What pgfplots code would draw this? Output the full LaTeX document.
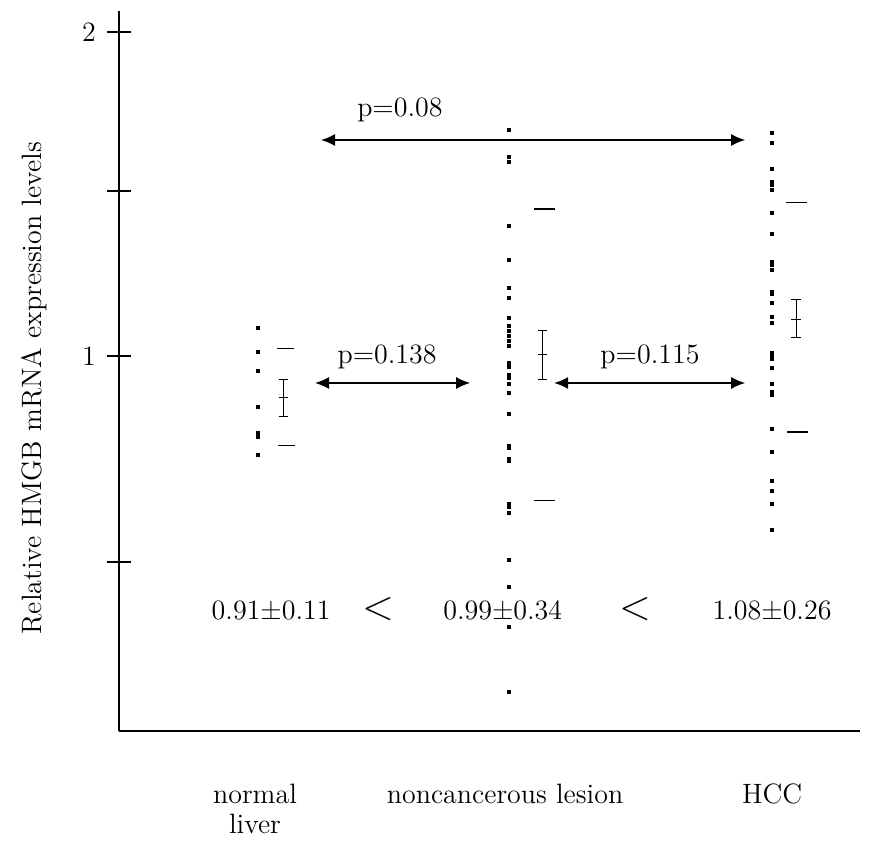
\documentclass[border=0pt]{standalone}
\usepackage{fontspec}
\usepackage{pgfplots}
\pgfplotsset{compat=1.18}
\usetikzlibrary{arrows.meta}

\begin{document}
\begin{tikzpicture}[font=\fontsize{14}{15}\selectfont]
  \path[use as bounding box] (-59.5pt,-55.5pt) rectangle (377pt,365.5pt);
  \begin{axis}[
      scale only axis, width=370.5pt, height=360pt,
      xmin=0.459, xmax=3.342, ymin=-0.1574, ymax=2.0648,
      axis x line=bottom, axis y line=left,
      axis line style={-, line width=0.9pt},
      xtick=\empty,
      ytick={0.3642,1,1.5093,2}, yticklabels={,1,,2},
      yticklabel style={xshift=-2pt},
      tick align=center, major tick length=12pt,
      tick style={black, line width=0.9pt},
      ylabel={Relative HMGB mRNA expression levels},
      ylabel style={at={(axis description cs:-0.115,0.476)}, anchor=center},
      clip=false, unbounded coords=jump,
      /pgf/number format/assume math mode=true,
    ]
    % individual samples
    \addplot[only marks, mark=square*, mark size=0.75pt, black] coordinates {
      (1,1.0855) (1,1.0133) (1,0.9546) (1,0.8435) (1,0.7614) (1,0.7509) (1,0.6944)
    };
    \addplot[only marks, mark=square*, mark size=0.75pt, black] coordinates {
      (1.977,1.6975) (1.977,1.6151) (1.977,1.5997) (1.977,1.4022) (1.977,1.2963)
      (1.977,1.2090) (1.977,1.1781) (1.977,1.1182) (1.977,1.0926) (1.977,1.0772)
      (1.977,1.0617) (1.977,1.0463) (1.977,1.0309) (1.977,0.9793) (1.977,0.9651)
      (1.977,0.9414) (1.977,0.9321) (1.977,0.9136) (1.977,0.8849) (1.977,0.8201)
      (1.977,0.7231) (1.977,0.7160) (1.977,0.6821) (1.977,0.6759) (1.977,0.5432)
      (1.977,0.5349) (1.977,0.5164) (1.977,0.3704) (1.977,0.2880) (1.977,0.1645)
      (1.977,-0.0361)
    };
    \addplot[only marks, mark=square*, mark size=0.75pt, black] coordinates {
      (3,1.6873) (3,1.6565) (3,1.5772) (3,1.5380) (3,1.5278) (3,1.5123) (3,1.4423)
      (3,1.3756) (3,1.2911) (3,1.2809) (3,1.2654) (3,1.1985) (3,1.1914) (3,1.1627)
      (3,1.1213) (3,1.1009) (3,1.0102) (3,1.0015) (3,0.9898) (3,0.9639) (3,0.9127)
      (3,0.8898) (3,0.8796) (3,0.7747) (3,0.7028) (3,0.6151) (3,0.5833) (3,0.5423)
      (3,0.4630)
    };
    % mean +- SE (bar, caps and mean tick)
    \addplot[black, line width=0.5pt] coordinates {
      (1.098,0.8139) (1.098,0.9290) (nan,nan)
      (1.080,0.9290) (1.116,0.9290) (nan,nan)
      (1.080,0.8713) (1.116,0.8713) (nan,nan)
      (1.080,0.8139) (1.116,0.8139)
    };
    \addplot[black, line width=0.5pt] coordinates {
      (2.106,0.9281) (2.106,1.0781) (nan,nan)
      (2.088,1.0781) (2.124,1.0781) (nan,nan)
      (2.088,1.0031) (2.124,1.0031) (nan,nan)
      (2.088,0.9281) (2.124,0.9281)
    };
    \addplot[black, line width=0.5pt] coordinates {
      (3.093,1.0565) (3.093,1.1759) (nan,nan)
      (3.074,1.1759) (3.112,1.1759) (nan,nan)
      (3.074,1.1142) (3.112,1.1142) (nan,nan)
      (3.074,1.0565) (3.112,1.0565)
    };
    % mean +- SD
    \addplot[black, line width=0.6pt] coordinates {(1.074,1.0238) (1.140,1.0238)};
    \addplot[black, line width=0.6pt] coordinates {(1.078,0.7231) (1.144,0.7231)};
    \addplot[black, line width=0.6pt] coordinates {(2.074,1.4537) (2.156,1.4537)};
    \addplot[black, line width=0.6pt] coordinates {(2.074,0.5534) (2.156,0.5534)};
    \addplot[black, line width=0.6pt] coordinates {(3.054,1.4744) (3.136,1.4744)};
    \addplot[black, line width=0.6pt] coordinates {(3.058,0.7654) (3.140,0.7654)};

    % comparisons
    \draw[{Latex[length=7pt,width=6pt]}-{Latex[length=7pt,width=6pt]}, line width=0.7pt]
      (axis cs:1.245,1.6667) -- (axis cs:2.895,1.6667);
    \draw[{Latex[length=7pt,width=6pt]}-{Latex[length=7pt,width=6pt]}, line width=0.7pt]
      (axis cs:1.222,0.9167) -- (axis cs:1.825,0.9167);
    \draw[{Latex[length=7pt,width=6pt]}-{Latex[length=7pt,width=6pt]}, line width=0.7pt]
      (axis cs:2.152,0.9167) -- (axis cs:2.895,0.9167);
    \node[anchor=base] at (axis cs:1.552,1.7386) {p=0.08};
    \node[anchor=base] at (axis cs:1.502,0.978) {p=0.138};
    \node[anchor=base] at (axis cs:2.525,0.978) {p=0.115};

    \node[anchor=base] at (axis cs:1.051,0.188) {0.91±0.11};
    \node[anchor=base, scale=1.45] at (axis cs:1.467,0.188) {$<$};
    \node[anchor=base] at (axis cs:1.952,0.188) {0.99±0.34};
    \node[anchor=base, scale=1.45] at (axis cs:2.467,0.188) {$<$};
    \node[anchor=base] at (axis cs:3.000,0.188) {1.08±0.26};

    % group names
    \node[anchor=north, align=center] at (axis cs:0.988,-0.300) {normal\\liver};
    \node[anchor=north] at (axis cs:1.961,-0.300) {noncancerous lesion};
    \node[anchor=north] at (axis cs:3.000,-0.300) {HCC};
  \end{axis}
\end{tikzpicture}
\end{document}
